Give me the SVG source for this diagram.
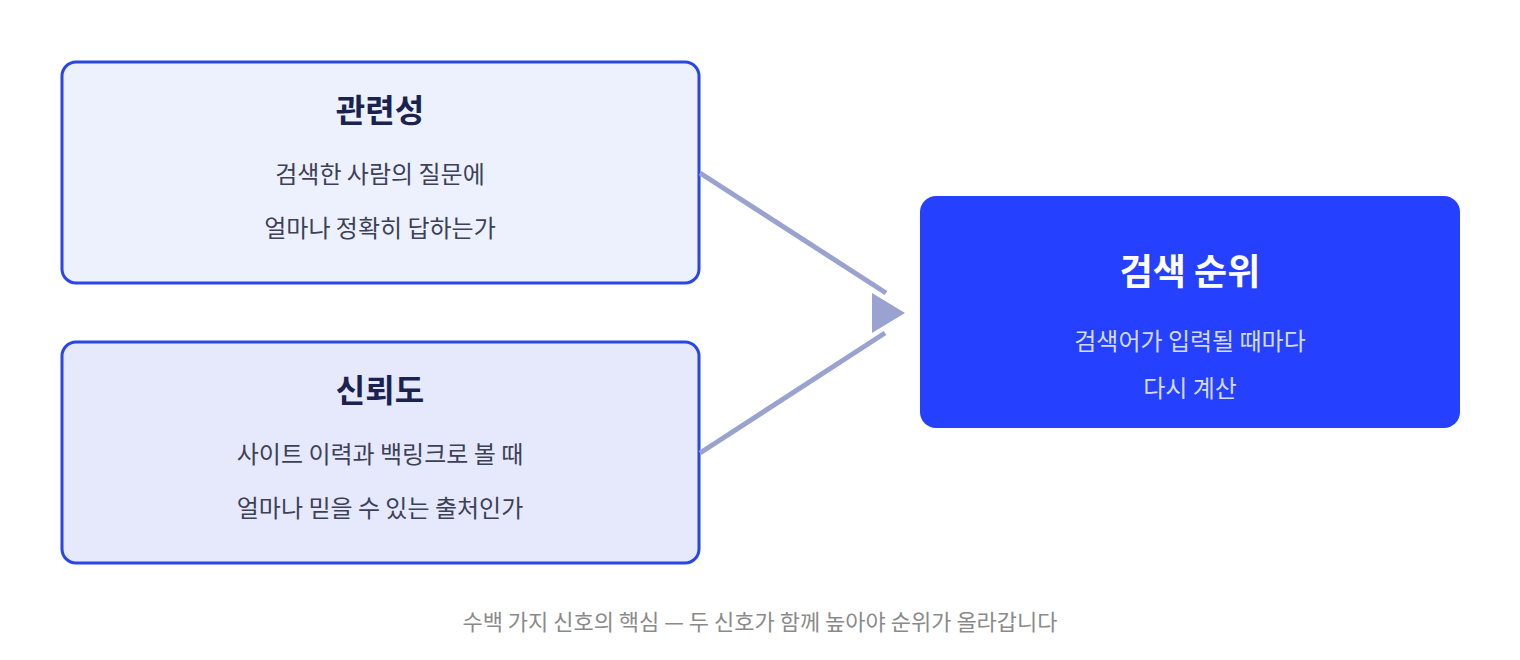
<svg xmlns="http://www.w3.org/2000/svg" width="1520" height="660" viewBox="0 0 1520 660">
<style>
text{font-family:"Noto Sans CJK KR","Noto Sans",sans-serif;text-anchor:middle}
.src{stroke:#2a45e8;stroke-width:3}
.t{font-size:32px;font-weight:700;fill:#1a2350}
.d{font-size:24px;fill:#3c4158}
.conn{stroke:#9aa3d0;stroke-width:5;fill:none}
</style>
<rect width="1520" height="660" fill="#fff"/>
<g id="relevance">
<rect class="src" x="62" y="62" width="637" height="221" rx="14" fill="#ecf1fd"/>
<text class="t" x="380" y="122">관련성</text>
<text class="d" x="380" y="183">검색한 사람의 질문에</text>
<text class="d" x="380" y="237">얼마나 정확히 답하는가</text>
</g>
<g id="trust">
<rect class="src" x="62" y="342" width="637" height="221" rx="14" fill="#e6e9fc"/>
<text class="t" x="380" y="402">신뢰도</text>
<text class="d" x="380" y="463">사이트 이력과 백링크로 볼 때</text>
<text class="d" x="380" y="517">얼마나 믿을 수 있는 출처인가</text>
</g>
<g id="rank">
<rect x="920" y="196" width="540" height="232" rx="16" fill="#2541ff"/>
<text x="1190" y="285" font-size="36" font-weight="700" fill="#fff">검색 순위</text>
<text x="1190" y="350" font-size="24" fill="#d3dbff">검색어가 입력될 때마다</text>
<text x="1190" y="397" font-size="24" fill="#d3dbff">다시 계산</text>
</g>
<g id="connectors">
<line class="conn" x1="700" y1="173" x2="886" y2="293"/>
<line class="conn" x1="700" y1="453" x2="885" y2="333"/>
<polygon points="872,293 905,313 872,333" fill="#9aa3d0"/>
</g>
<text x="760" y="630" font-size="22" fill="#8a8a8a">수백 가지 신호의 핵심 — 두 신호가 함께 높아야 순위가 올라갑니다</text>
</svg>
